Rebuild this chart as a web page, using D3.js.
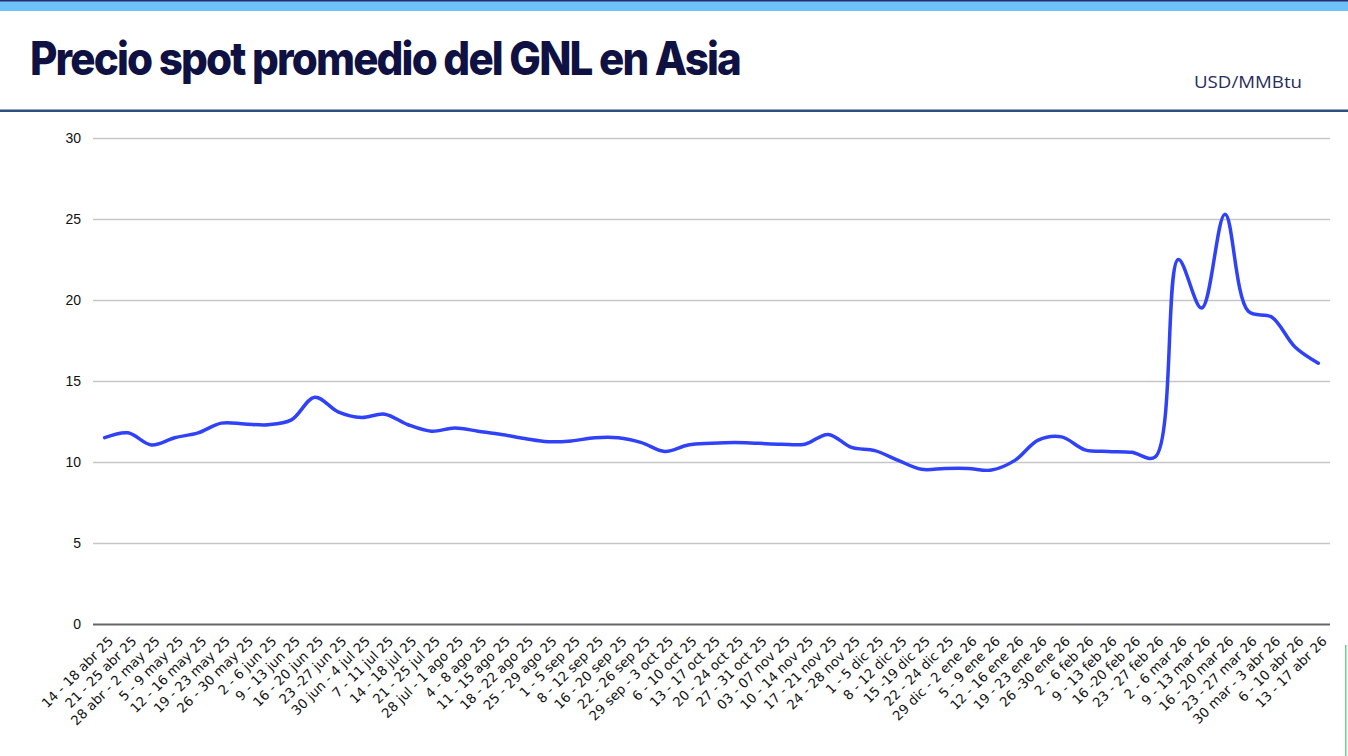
<!DOCTYPE html>
<html>
<head>
<meta charset="utf-8">
<script src="https://cdn.jsdelivr.net/npm/d3@7"></script>
<style>
  html, body { margin: 0; padding: 0; background: #fff; }
  svg { display: block; }
  .y.axis text { font-family: "Liberation Sans", Arial, sans-serif; font-size: 14px; fill: #111; }
  .x.axis text { font-family: "DejaVu Sans", sans-serif; font-size: 13.3px; fill: #111; }
</style>
</head>
<body>
<div id="chart-area"></div>
<script>
const weeks = [
  "14 - 18 abr 25", "21 - 25 abr 25", "28 abr - 2 may 25", "5 - 9 may 25", "12 - 16 may 25",
  "19 - 23 may 25", "26 - 30 may 25", "2 - 6 jun 25", "9 - 13 jun 25", "16 - 20 jun 25",
  "23 -27 jun 25", "30 jun - 4 jul 25", "7 - 11 jul 25", "14 - 18 jul 25", "21 - 25 jul 25",
  "28 jul - 1 ago 25", "4 - 8 ago 25", "11 - 15 ago 25", "18 - 22 ago 25", "25 - 29 ago 25",
  "1 - 5 sep 25", "8 - 12 sep 25", "16 - 20 sep 25", "22 - 26 sep 25", "29 sep - 3 oct 25",
  "6 - 10 oct 25", "13 - 17 oct 25", "20 - 24 oct 25", "27 - 31 oct 25", "03 - 07 nov 25",
  "10 - 14 nov 25", "17 - 21 nov 25", "24 - 28 nov 25", "1 - 5 dic 25", "8 - 12 dic 25",
  "15 -19 dic 25", "22 - 24 dic 25", "29 dic - 2 ene 26", "5 - 9 ene 26", "12 - 16 ene 26",
  "19 - 23 ene 26", "26 -30 ene 26", "2 - 6 feb 26", "9 - 13 feb 26", "16 -20 feb 26",
  "23 - 27 feb 26", "2 - 6 mar 26", "9 - 13 mar 26", "16 - 20 mar 26", "23 - 27 mar 26",
  "30 mar - 3 abr 26", "6 - 10 abr 26", "13 - 17 abr 26"
];
const prices = [
  11.5, 11.8, 11.05, 11.5, 11.8, 12.4, 12.35, 12.3, 12.6, 14.0,
  13.1, 12.75, 12.95, 12.3, 11.9, 12.1, 11.9, 11.7, 11.45, 11.25,
  11.3, 11.5, 11.5, 11.2, 10.65, 11.05, 11.15, 11.2, 11.15, 11.1,
  11.1, 11.7, 10.9, 10.7, 10.1, 9.55, 9.6, 9.6, 9.5, 10.1,
  11.35, 11.55, 10.75, 10.65, 10.6, 10.3, 22.5, 19.5, 25.3, 19.3,
  18.95, 17.1, 16.1
];
const yTicks = [0, 5, 10, 15, 20, 25, 30];
const title = "Precio spot promedio del GNL en Asia";
const unit = "USD/MMBtu";

const chartSize = { width: 1348, height: 756 };
const margin = { left: 93, right: 18, top: 138, bottom: 132 };
const width = chartSize.width - margin.left - margin.right;
const height = chartSize.height - margin.top - margin.bottom;

const drawChart = function() {
  const svg = d3.select("#chart-area")
    .append("svg")
    .attr("width", chartSize.width)
    .attr("height", chartSize.height);

  svg.append("rect").attr("x", 0).attr("y", 0).attr("width", chartSize.width).attr("height", 11).attr("fill", "#6ec1f6");
  svg.append("rect").attr("x", 0).attr("y", 0).attr("width", chartSize.width).attr("height", 1.5).attr("fill", "#2b2a6e");
  svg.append("rect").attr("x", 0).attr("y", 109.5).attr("width", chartSize.width).attr("height", 2.5).attr("fill", "#2c4f7c");
  svg.append("rect").attr("x", 1345).attr("y", 645).attr("width", 1.5).attr("height", 111).attr("fill", "#6fcf8c");

  svg.append("text")
    .attr("x", 30)
    .attr("y", 75)
    .attr("textLength", 710)
    .attr("lengthAdjust", "spacingAndGlyphs")
    .style("font-family", "Inter, 'Liberation Sans', sans-serif")
    .style("font-weight", 800)
    .style("font-size", "46px")
    .style("letter-spacing", "-2px")
    .attr("fill", "#0f1142")
    .text(title);

  svg.append("text")
    .attr("x", 1302)
    .attr("y", 88)
    .attr("textLength", 108)
    .attr("lengthAdjust", "spacingAndGlyphs")
    .attr("text-anchor", "end")
    .style("font-family", "'Open Sans', sans-serif")
    .style("font-size", "17px")
    .attr("fill", "#2a2d5c")
    .text(unit);

  const g = svg.append("g")
    .attr("transform", `translate(${margin.left},${margin.top})`);

  const x = d3.scalePoint()
    .domain(weeks)
    .range([0, width])
    .padding(0.5);

  const y = d3.scaleLinear()
    .domain([0, 30])
    .range([height, 0]);

  const yAxis = d3.axisLeft(y)
    .tickValues(yTicks)
    .tickSize(-width)
    .tickPadding(12);

  g.append("g")
    .attr("class", "y axis")
    .call(yAxis)
    .call(a => a.select(".domain").remove())
    .call(a => a.selectAll(".tick line")
      .attr("stroke", "#c6c6c6")
      .attr("stroke-width", 1.5))
    .call(a => a.selectAll(".tick")
      .filter(d => d === 0)
      .select("line")
      .attr("stroke", "#666")
      .attr("stroke-width", 2.2));

  const xAxis = d3.axisBottom(x).tickSize(0).tickPadding(0);

  g.append("g")
    .attr("class", "x axis")
    .attr("transform", `translate(0,${height})`)
    .call(xAxis)
    .call(a => a.select(".domain").remove())
    .selectAll("text")
    .attr("text-anchor", "end")
    .attr("dy", null)
    .attr("y", 0)
    .attr("transform", "translate(9,18) rotate(-45)");

  const line = d3.line()
    .x((d, i) => x(weeks[i]))
    .y(d => y(d))
    .curve(d3.curveCatmullRom.alpha(0.5));

  g.append("path")
    .datum(prices)
    .attr("fill", "none")
    .attr("stroke", "#3042f7")
    .attr("stroke-width", 3.5)
    .attr("stroke-linejoin", "round")
    .attr("stroke-linecap", "round")
    .attr("d", line);
};

window.onload = drawChart;
</script>
</body>
</html>
